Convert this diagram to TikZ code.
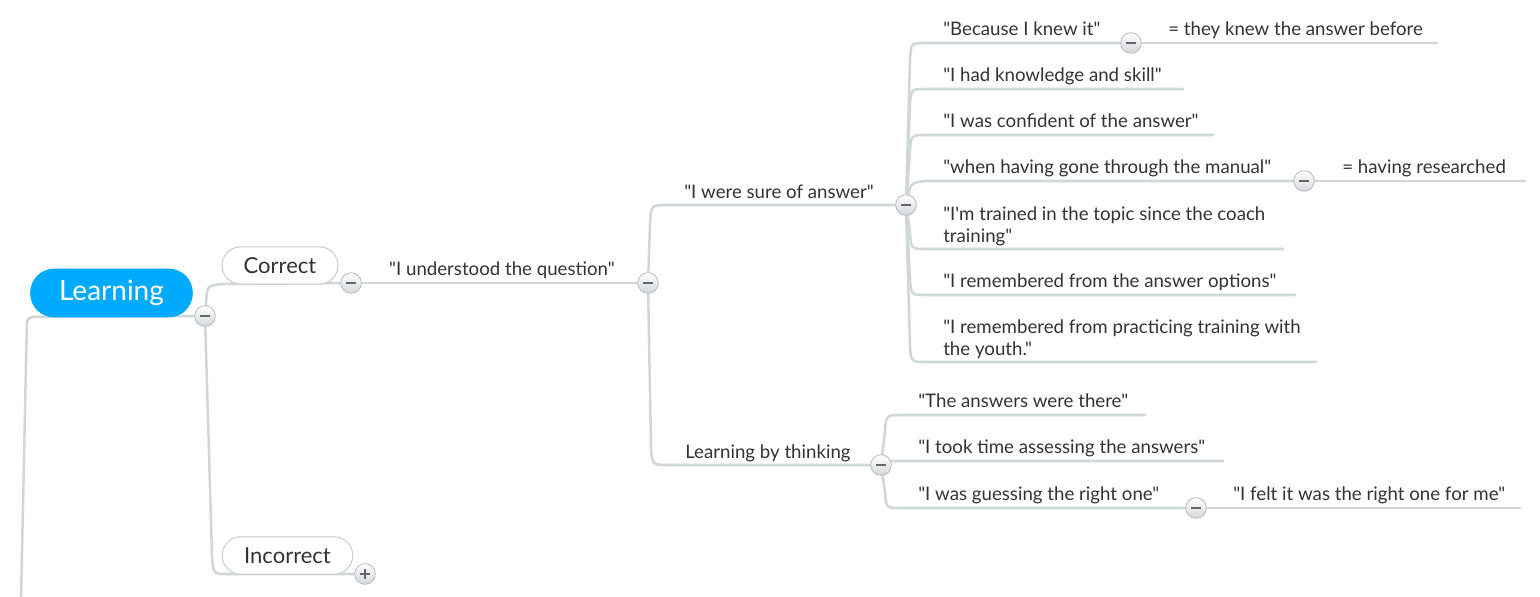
\documentclass[tikz,border=0pt]{standalone}
\usepackage{fontspec}
\setmainfont{Lato}[Ligatures=TeXOff]
\definecolor{lblue}{RGB}{0,170,255}
\definecolor{lineclr}{RGB}{208,215,219}
\definecolor{txt}{RGB}{51,51,51}
\definecolor{cbord}{RGB}{180,186,190}
\definecolor{cshade}{RGB}{212,216,219}
\definecolor{pillbord}{RGB}{200,206,210}
\pgfdeclarelayer{bg}
\pgfsetlayers{bg,main}
\begin{document}
\begin{tikzpicture}[x=0.75pt,y=-0.75pt,
 link/.style={draw=lineclr, line width=1.9pt, line cap=round},
 leaf/.style={anchor=base west, inner sep=0, text=txt, font=\fontsize{14}{16.5}\selectfont, align=left},
 mid/.style={anchor=base, inner sep=0, text=txt, font=\fontsize{14}{16.5}\selectfont},
 toggle/.style={circle, inner sep=0, minimum size=15.5pt, draw=cbord, line width=0.6pt, top color=white, bottom color=cshade},
 minus/.style={toggle, path picture={\draw[line width=1.4pt, black!60] ([xshift=-3.6pt]path picture bounding box.center) -- ([xshift=3.6pt]path picture bounding box.center);}},
 plus/.style={toggle, path picture={\draw[line width=1.2pt, black!60] ([xshift=-3.6pt]path picture bounding box.center) -- ([xshift=3.6pt]path picture bounding box.center) ([yshift=-3.6pt]path picture bounding box.center) -- ([yshift=3.6pt]path picture bounding box.center);}},
 pill/.style={rounded corners=14pt, draw=pillbord, line width=0.8pt, fill=white, text=txt, font=\fontsize{16.5}{18}\selectfont, minimum height=28pt, inner sep=0}
]
\useasboundingbox (0,0) rectangle (1540,596);

% main topic and subtopics
\node[pill, fill=lblue, draw=none, text=white, minimum width=122pt, minimum height=36.5pt, rounded corners=18pt, font=\fontsize{21}{24}\selectfont] (learn) at (111.5,293) {Learning};
\node[pill, minimum width=87pt] (correct) at (280,265.5) {Correct};
\node[pill, minimum width=98pt] (incorrect) at (287.5,555.5) {Incorrect};

% toggles
\node[minus] (t0) at (205,316) {};
\node[minus] (t1) at (351,283) {};
\node[plus]  (t2) at (365,574) {};
\node[minus] (t3) at (648,283) {};
\node[minus] (t4) at (906,205) {};
\node[minus] (t5) at (881,465) {};
\node[minus] (t6) at (1131,43) {};
\node[minus] (t7) at (1304,181) {};
\node[minus] (t8) at (1196,508) {};

% texts
\node[mid] (q) at (502,275) {"I understood the question"};
\node[mid] (sure) at (779,198) {"I were sure of answer"};
\node[leaf] (lbt) at (685,458) {Learning by thinking};
\node[leaf] (a1) at (943,35) {"Because I knew it"};
\node[leaf] (a1x) at (1168,35) {= they knew the answer before};
\node[leaf] (a2) at (943,81) {"I had knowledge and skill"};
\node[leaf] (a3) at (943,127) {"I was confident of the answer"};
\node[leaf] (a4) at (943,173) {"when having gone through the manual"};
\node[leaf] (a4x) at (1342,173) {= having researched};
\node[leaf] (a5) at (943,242) {"I'm trained in the topic since the coach\\training"};
\node[leaf] (a6) at (943,287) {"I remembered from the answer options"};
\node[leaf] (a7) at (943,355) {"I remembered from practicing training with\\the youth."};
\node[leaf] (b1) at (918,407) {"The answers were there"};
\node[leaf] (b2) at (918,453) {"I took time assessing the answers"};
\node[leaf] (b3) at (918,500) {"I was guessing the right one"};
\node[leaf] (b3x) at (1233,500) {"I felt it was the right one for me"};

% line ends
\coordinate (corner) at (27,317);
\coordinate (trunkend) at (21,600);
\coordinate (e1x) at (1437,43);
\coordinate (e2) at (1183,89);
\coordinate (e3) at (1213,135);
\coordinate (e4x) at (1525,181);
\coordinate (e5) at (1283,249);
\coordinate (e6) at (1295,295);
\coordinate (e7) at (1316,362);
\coordinate (f1) at (1145,415);
\coordinate (f2) at (1223,461);
\coordinate (f3x) at (1520,508);

\begin{pgfonlayer}{bg}
\draw[link, rounded corners=4pt] (t0.center) -- (corner) -- (trunkend);
\draw[link] (t0.center) -- (206,305) .. controls (207,285) .. (224,284) -- (t1.center);
\draw[link] (t0.center) -- (212,556) .. controls (213,574) .. (228,574) -- (t2.center);
\draw[link] (t1.center) -- (t3.center);
\draw[link] (t3.center) -- (650,224) .. controls (651,205) .. (668,205) -- (t4.center);
\draw[link] (t3.center) -- (651,446) .. controls (652,465) .. (669,465) -- (t5.center);
% fan of "I were sure of answer"
\draw[link] (t4.center) -- (910,59) .. controls (911,43) .. (927,43) -- (t6.center);
\draw[link] (t6.center) -- (e1x);
\draw[link] (t4.center) -- (910,105) .. controls (911,89) .. (927,89) -- (e2);
\draw[link] (t4.center) -- (910,151) .. controls (911,135) .. (927,135) -- (e3);
\draw[link] (t4.center) .. controls (910,183) .. (925,181) -- (t7.center);
\draw[link] (t7.center) -- (e4x);
\draw[link] (t4.center) -- (910,233) .. controls (911,249) .. (927,249) -- (e5);
\draw[link] (t4.center) -- (910,279) .. controls (911,295) .. (927,295) -- (e6);
\draw[link] (t4.center) -- (910,346) .. controls (911,362) .. (927,362) -- (e7);
% fan of Learning by thinking
\draw[link] (t5.center) -- (885,431) .. controls (886,415) .. (902,415) -- (f1);
\draw[link] (t5.center) .. controls (886,461) .. (900,461) -- (f2);
\draw[link] (t5.center) -- (885,492) .. controls (886,508) .. (902,508) -- (t8.center);
\draw[link] (t8.center) -- (f3x);
\end{pgfonlayer}
\end{tikzpicture}
\end{document}
